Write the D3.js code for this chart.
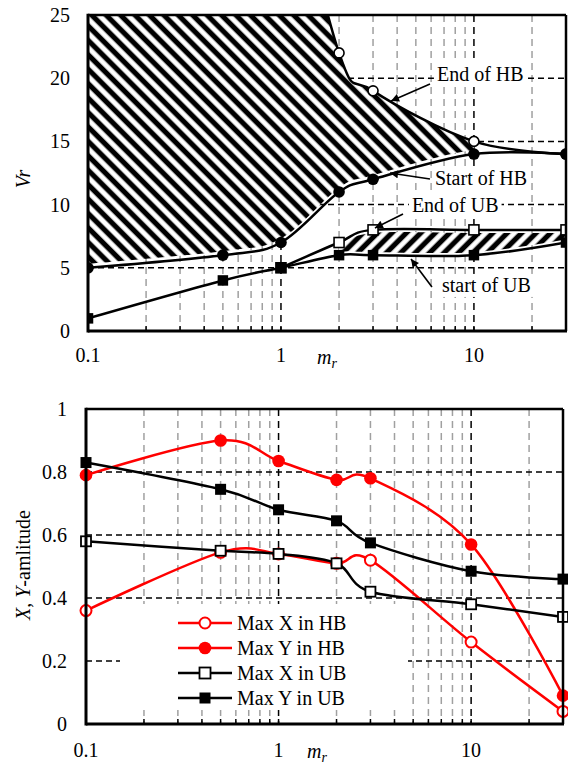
<!DOCTYPE html>
<html><head><meta charset="utf-8">
<script src="https://cdn.jsdelivr.net/npm/d3@7"></script>
<style>
body{margin:0;background:#fff}
svg{display:block;font-family:'Liberation Serif','Times New Roman',Times,'DejaVu Serif',serif}
svg text{font-family:'Liberation Serif','Times New Roman',Times,'DejaVu Serif',serif !important;font-size:20px;fill:#000}
</style>
</head><body>
<svg id="c" width="568" height="767" font-family="Liberation Serif, Times New Roman, serif"></svg>
<script>
// ---------- data ----------
const mr = [0.1, 0.5, 1, 2, 3, 10, 30];
const xTickVals = [0.1, 1, 10];
const topYTicks = [0, 5, 10, 15, 20, 25];
const botYTicks = [0, 0.2, 0.4, 0.6, 0.8, 1];
const botYLabels = ["0", "0.2", "0.4", "0.6", "0.8", "1"];

// top chart (Vr)
const startHB = [5, 6, 7, 11, 12, 14, 14];
const endHBx = [1, 2, 3, 10, 30];
const endHB = [40, 22, 19, 15, 14];
const endUBx = [1, 2, 3, 10, 30];
const endUB = [5, 7, 8, 8, 8];
const startUB = [1, 4, 5, 6, 6, 6, 7];

// annotations (data units): text position, arrow start, arrow tip
const annLabels = ["End of HB", "Start of HB", "End of UB", "start of UB"];
const annText = [[6.43, 19.78], [6.28, 11.55], [4.77, 9.41], [6.83, 3.09]];
const annFrom = [[5.92, 19.54], [5.92, 12.03], [4.29, 9.26], [6.06, 3.48]];
const annTip = [[3.72, 18.2], [3.67, 12.5], [3.07, 8.15], [4.72, 5.70]];

// bottom chart (amplitudes)
const maxXHB = [0.36, 0.545, 0.54, 0.51, 0.52, 0.26, 0.04];
const maxYHB = [0.79, 0.90, 0.835, 0.775, 0.78, 0.57, 0.09];
const maxXUB = [0.58, 0.55, 0.54, 0.51, 0.42, 0.38, 0.34];
const maxYUB = [0.83, 0.745, 0.68, 0.645, 0.575, 0.485, 0.46];
const seriesNames = ["Max X in HB", "Max Y in HB", "Max X in UB", "Max Y in UB"];

// ---------- setup ----------
const svg = d3.select("#c");
const zip = (a, b) => a.map((v, i) => [v, b[i]]);
const curve = d3.curveCardinal.tension(0);
const defs = svg.append("defs");

function stripePattern(id, angle) {
  const P = 10.2;
  const p = defs.append("pattern").attr("id", id).attr("patternUnits", "userSpaceOnUse")
    .attr("width", P).attr("height", P).attr("patternTransform", `rotate(${angle})`);
  p.append("rect").attr("width", P).attr("height", P).attr("fill", "#fff");
  const g = defs.append("linearGradient").attr("id", id + "g").attr("x1", "0").attr("x2", "1").attr("y1", "0").attr("y2", "0");
  g.append("stop").attr("offset", "0").attr("stop-color", "#fff");
  g.append("stop").attr("offset", "0.2").attr("stop-color", "#000");
  g.append("stop").attr("offset", "0.8").attr("stop-color", "#000");
  g.append("stop").attr("offset", "1").attr("stop-color", "#fff");
  p.append("rect").attr("x", 0).attr("width", 6.4).attr("height", P).attr("fill", `url(#${id}g)`);
}
stripePattern("hatchBack", -45);
stripePattern("hatchFwd", 45);

defs.append("marker").attr("id", "arrow").attr("viewBox", "0 0 10 10").attr("refX", 10).attr("refY", 5)
  .attr("markerWidth", 10).attr("markerHeight", 8).attr("markerUnits", "userSpaceOnUse").attr("orient", "auto")
  .append("path").attr("d", "M0,0 L10,5 L0,10 z").attr("fill", "#000");

function minorVals() {
  const v = [];
  [0.1, 1, 10].forEach(d => { for (let k = 2; k <= 9; k++) { const t = +(k * d).toPrecision(3); if (t < 30) v.push(t); } });
  return v;
}
const minors = minorVals();

function drawGrid(g, x, y, yGridVals, L, R, T, B) {
  g.selectAll(".vg").data(minors).join("line")
    .attr("x1", d => x(d)).attr("x2", d => x(d)).attr("y1", T).attr("y2", B)
    .attr("stroke", "#a0a0a0").attr("stroke-width", 1.5).attr("stroke-dasharray", "7,5");
  g.selectAll(".vgm").data([1, 10]).join("line")
    .attr("x1", d => x(d)).attr("x2", d => x(d)).attr("y1", T).attr("y2", B)
    .attr("stroke", "#000").attr("stroke-width", 1.5).attr("stroke-dasharray", "7,5");
  g.selectAll(".hg").data(yGridVals).join("line")
    .attr("x1", L).attr("x2", R).attr("y1", d => y(d)).attr("y2", d => y(d))
    .attr("stroke", "#000").attr("stroke-width", 1.5).attr("stroke-dasharray", "6,4");
}
function drawTicks(g, x, B) {
  g.selectAll(".tk").data(minors.concat([1, 10])).join("line")
    .attr("x1", d => x(d)).attr("x2", d => x(d)).attr("y1", B).attr("y2", B - 5)
    .attr("stroke", "#000").attr("stroke-width", 1.5);
}
function drawFrame(g, L, R, T, B) {
  g.append("line").attr("x1", L).attr("x2", R).attr("y1", T).attr("y2", T).attr("stroke", "#000").attr("stroke-width", 2.5);
  g.append("line").attr("x1", R).attr("x2", R).attr("y1", T).attr("y2", B).attr("stroke", "#000").attr("stroke-width", 2.5);
  g.append("line").attr("x1", L).attr("x2", R + 1).attr("y1", B).attr("y2", B).attr("stroke", "#000").attr("stroke-width", 3);
  g.append("line").attr("x1", L).attr("x2", L).attr("y1", T - 1.2).attr("y2", B + 1.5).attr("stroke", "#000").attr("stroke-width", 3);
}
function clip(id, x0, y0, w, h) {
  defs.append("clipPath").attr("id", id).append("rect").attr("x", x0).attr("y", y0).attr("width", w).attr("height", h);
}
function circles(g, pts, x, y, r, fill, stroke, sw) {
  g.append("g").selectAll("circle").data(pts).join("circle")
    .attr("cx", d => x(d[0])).attr("cy", d => y(d[1])).attr("r", r)
    .attr("fill", fill).attr("stroke", stroke).attr("stroke-width", sw);
}
function squares(g, pts, x, y, s, fill, stroke, sw) {
  g.append("g").selectAll("rect").data(pts).join("rect")
    .attr("x", d => x(d[0]) - s / 2).attr("y", d => y(d[1]) - s / 2).attr("width", s).attr("height", s)
    .attr("fill", fill).attr("stroke", stroke).attr("stroke-width", sw);
}
function mrLabel(g, x0, y0) {
  const xl = g.append("text").attr("x", x0).attr("y", y0).attr("font-style", "italic");
  xl.append("tspan").text("m");
  xl.append("tspan").attr("font-size", "14px").style("font-size", "14px").attr("dy", 4).text("r");
}

// ================= TOP CHART =================
{
  const L = 88, R = 566, T = 15, B = 331;
  const x = d3.scaleLog().domain([0.1, 30]).range([L, R]);
  const y = d3.scaleLinear().domain([0, 25]).range([B, T]);
  const g = svg.append("g");
  clip("topClip", L, T, R - L, B - T);
  drawGrid(g, x, y, [5, 10, 15, 20], L, R, T, B);
  drawTicks(g, x, B);

  clip("hbClip", L, T, x(10) - L, B - T);
  const lowerHB = d3.line().x(d => x(d[0])).y(d => y(d[1]) - 4).curve(curve)(zip(mr, startHB));
  const upperHB = d3.line().x(d => x(d[0])).y(d => y(d[1])).curve(curve)(zip(endHBx, endHB).reverse());
  const hbPath = lowerHB + upperHB.replace(/^M/, "L") + `L${x(0.1)},${y(40)}Z`;
  g.append("path").attr("d", hbPath).attr("fill", "url(#hatchBack)").attr("clip-path", "url(#hbClip)");

  clip("ubClip", x(2), T, x(30) - x(2), B - T);
  const ubRows = endUBx.map((v, i) => [v, startUB[mr.indexOf(v)], endUB[i]]);
  const ubArea = d3.area().x(d => x(d[0])).y0(d => y(d[1]) - 3).y1(d => y(d[2]) + 3).curve(curve);
  g.append("path").attr("d", ubArea(ubRows)).attr("fill", "url(#hatchFwd)").attr("clip-path", "url(#ubClip)");

  const line = d3.line().x(d => x(d[0])).y(d => y(d[1])).curve(curve);
  const cg = g.append("g").attr("clip-path", "url(#topClip)");
  const ehb = zip(endHBx, endHB), shb = zip(mr, startHB), eub = zip(endUBx, endUB), sub = zip(mr, startUB);
  [ehb, shb, eub, sub].forEach(p => cg.append("path").attr("d", line(p)).attr("fill", "none").attr("stroke", "#000").attr("stroke-width", 2.5));
  circles(cg, ehb.filter(d => d[1] <= 25), x, y, 5, "#fff", "#000", 1.6);
  circles(cg, shb, x, y, 5.8, "#000", "none", 0);
  squares(cg, eub, x, y, 10, "#fff", "#000", 1.6);
  squares(cg, sub, x, y, 10.5, "#000", "none", 0);

  annLabels.forEach((lab, i) => {
    const ag = g.append("g");
    const bg = ag.append("rect").attr("fill", "#fff");
    const t = ag.append("text").attr("x", x(annText[i][0])).attr("y", y(annText[i][1])).text(lab);
    const bb = t.node().getBBox();
    bg.attr("x", bb.x - 3).attr("y", bb.y).attr("width", bb.width + 6).attr("height", bb.height + 1);
    ag.append("line").attr("x1", x(annFrom[i][0])).attr("y1", y(annFrom[i][1]))
      .attr("x2", x(annTip[i][0])).attr("y2", y(annTip[i][1]))
      .attr("stroke", "#000").attr("stroke-width", 1.6).attr("marker-end", "url(#arrow)");
  });

  drawFrame(g, L, R, T, B);

  g.selectAll(".yt").data(topYTicks).join("text")
    .attr("x", L - 18).attr("y", d => y(d)).attr("dy", "0.35em").attr("text-anchor", "end").text(d => d);
  g.selectAll(".xt").data(xTickVals).join("text")
    .attr("x", d => x(d)).attr("y", 362).attr("text-anchor", "middle").text(d => d);
  mrLabel(g, 317, 364);
  g.append("text").attr("transform", "translate(30,179) rotate(-90)").attr("text-anchor", "middle")
    .attr("font-style", "italic").text("Vr");
}

// ================= BOTTOM CHART =================
{
  const L = 86, R = 563, T = 409, B = 724;
  const x = d3.scaleLog().domain([0.1, 30]).range([L, R]);
  const y = d3.scaleLinear().domain([0, 1]).range([B, T]);
  const g = svg.append("g");
  clip("botClip", L - 8, T - 8, R - L + 16, B - T + 16);
  drawGrid(g, x, y, [0.2, 0.4, 0.6, 0.8], L, R, T, B);
  drawTicks(g, x, B);

  g.append("rect").attr("x", 120).attr("y", 604).attr("width", 288).attr("height", 106).attr("fill", "#fff");

  const line = d3.line().x(d => x(d[0])).y(d => y(d[1])).curve(curve);
  const cg = g.append("g").attr("clip-path", "url(#botClip)");
  const styles = [
    {data: maxXHB, color: "#ff0000", kind: "circle", open: true},
    {data: maxYHB, color: "#ff0000", kind: "circle", open: false},
    {data: maxXUB, color: "#000", kind: "square", open: true},
    {data: maxYUB, color: "#000", kind: "square", open: false}
  ];
  styles.forEach(s => {
    const p = zip(mr, s.data);
    cg.append("path").attr("d", line(p)).attr("fill", "none").attr("stroke", s.color).attr("stroke-width", 2.5);
    if (s.kind === "circle") circles(cg, p, x, y, s.open ? 5.5 : 6.3, s.open ? "#fff" : s.color, s.open ? s.color : "none", s.open ? 2 : 0);
    else squares(cg, p, x, y, s.open ? 10 : 11, s.open ? "#fff" : s.color, s.open ? s.color : "none", s.open ? 1.8 : 0);
  });

  const lg = g.append("g");
  styles.forEach((s, i) => {
    const cy = 623 + i * 25;
    lg.append("line").attr("x1", 178).attr("x2", 232).attr("y1", cy).attr("y2", cy).attr("stroke", s.color).attr("stroke-width", 2.5);
    if (s.kind === "circle") lg.append("circle").attr("cx", 205).attr("cy", cy).attr("r", s.open ? 5.5 : 6.3)
      .attr("fill", s.open ? "#fff" : s.color).attr("stroke", s.open ? s.color : "none").attr("stroke-width", 2);
    else lg.append("rect").attr("x", 205 - 5.5).attr("y", cy - 5.5).attr("width", 11).attr("height", 11)
      .attr("fill", s.open ? "#fff" : s.color).attr("stroke", s.open ? s.color : "none").attr("stroke-width", 1.8);
    lg.append("text").attr("x", 237).attr("y", cy).attr("dy", "0.35em").text(seriesNames[i]);
  });

  drawFrame(g, L, R, T, B);

  g.selectAll(".yt").data(botYTicks).join("text")
    .attr("x", L - 19).attr("y", d => y(d)).attr("dy", "0.35em").attr("text-anchor", "end").text((d, i) => botYLabels[i]);
  g.selectAll(".xt").data(xTickVals).join("text")
    .attr("x", d => x(d)).attr("y", 757).attr("text-anchor", "middle").text(d => d);
  mrLabel(g, 307, 758);
  const yl = g.append("text").attr("transform", "translate(30,565) rotate(-90)").attr("text-anchor", "middle");
  yl.append("tspan").attr("font-style", "italic").text("X");
  yl.append("tspan").text(", ");
  yl.append("tspan").attr("font-style", "italic").text("Y");
  yl.append("tspan").text("-amlitude");
}
</script>
</body></html>
